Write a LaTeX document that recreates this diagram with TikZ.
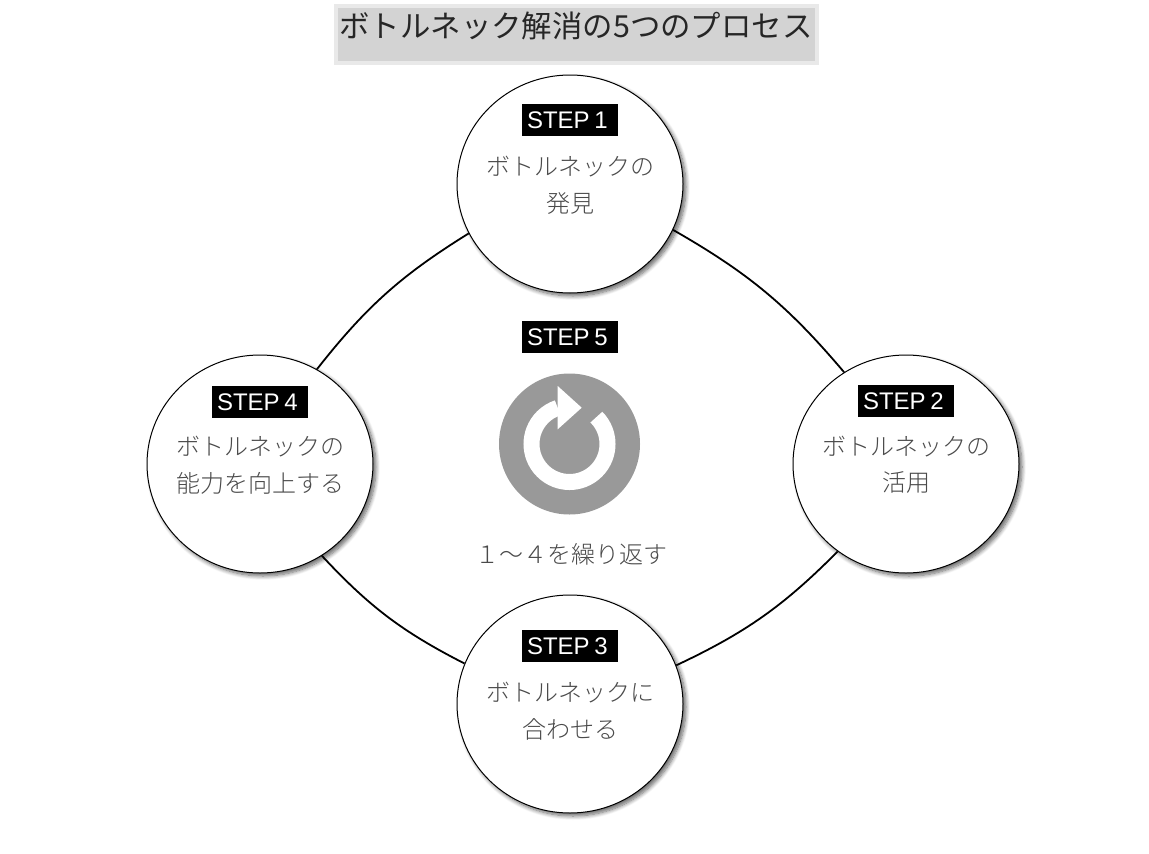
\documentclass[tikz,border=0pt]{standalone}
\usepackage{fontspec}
\setmainfont{Liberation Sans}
\newfontfamily\jp{Noto Sans CJK JP Light}
\newfontfamily\jptitle{Noto Sans CJK JP}
\usetikzlibrary{shapes.geometric,shadows.blur}
\definecolor{txtgray}{HTML}{4A4A4A}
\definecolor{titlebg}{HTML}{D3D3D3}
\definecolor{titleedge}{HTML}{E9E9E9}
\definecolor{icongray}{HTML}{999999}
\tikzset{
  stepcircle/.style={ellipse,draw=black,line width=1pt,fill=white,minimum width=226pt,minimum height=218pt,inner sep=0pt,
    blur shadow={shadow xshift=3pt,shadow yshift=-3pt,shadow blur radius=4pt,shadow blur steps=8,shadow opacity=60}},
  steplabel/.style={fill=black,text=white,font=\fontsize{24}{24}\selectfont,text width=86pt,minimum height=32pt,inner xsep=5pt,inner ysep=0pt,align=left},
  bodytext/.style={text=txtgray,font=\jp\fontsize{24}{24}\selectfont,inner sep=0pt},
  linkline/.style={line width=1.8pt,draw=black}
}
\begin{document}
\begin{tikzpicture}[x=1pt,y=-1pt]
\useasboundingbox (0,0) rectangle (1149,854);
\node[rectangle,fill=titlebg,draw=titleedge,line width=4pt,minimum width=481pt,minimum height=57pt,inner sep=0pt] (titlebox) at (576.5,34) {};
\node[text=black!85,font=\jptitle\fontsize{30.4}{30.4}\selectfont,inner sep=0pt] (title) at (576,26) {ボトルネック解消の5つのプロセス};

\node[stepcircle] (top) at (570,184) {};
\node[stepcircle] (right) at (906,464) {};
\node[stepcircle] (bottom) at (570,704) {};
\node[stepcircle] (left) at (260,464) {};

\draw[linkline] (top.-24) to[bend left=10] (right.124);
\draw[linkline] (right.232) to[bend left=10] (bottom.20);
\draw[linkline] (bottom.159) to[bend left=10] (left.-56);
\draw[linkline] (left.59) to[bend left=10] (top.206);

\node[steplabel] (s1) at (570,120) {STEP\hspace{.2em}1};
\node[bodytext] (t1a) at (570,167) {ボトルネックの};
\node[bodytext] (t1b) at (570,203) {発見};

\node[steplabel] (s2) at (906,401) {STEP\hspace{.2em}2};
\node[bodytext] (t2a) at (906,447) {ボトルネックの};
\node[bodytext] (t2b) at (906,483) {活用};

\node[steplabel] (s3) at (570,646) {STEP\hspace{.2em}3};
\node[bodytext] (t3a) at (570,693) {ボトルネックに};
\node[bodytext] (t3b) at (570,729) {合わせる};

\node[steplabel] (s4) at (260,402) {STEP\hspace{.2em}4};
\node[bodytext] (t4a) at (260,447) {ボトルネックの};
\node[bodytext] (t4b) at (260,483) {能力を向上する};

\node[steplabel] (s5) at (570,337) {STEP\hspace{.2em}5};

% recycle icon
\fill[icongray] (569.5,444) circle[radius=70.5];
\draw[white,line width=16pt] (569.5,444) ++(-45:38) arc[start angle=-45,end angle=252,radius=38];
\fill[white] (557.7,386) -- (581.7,407.7) -- (557.7,429.3) -- cycle;

\node[bodytext] (t5) at (571.5,554) {１～４を繰り返す};
\end{tikzpicture}
\end{document}
